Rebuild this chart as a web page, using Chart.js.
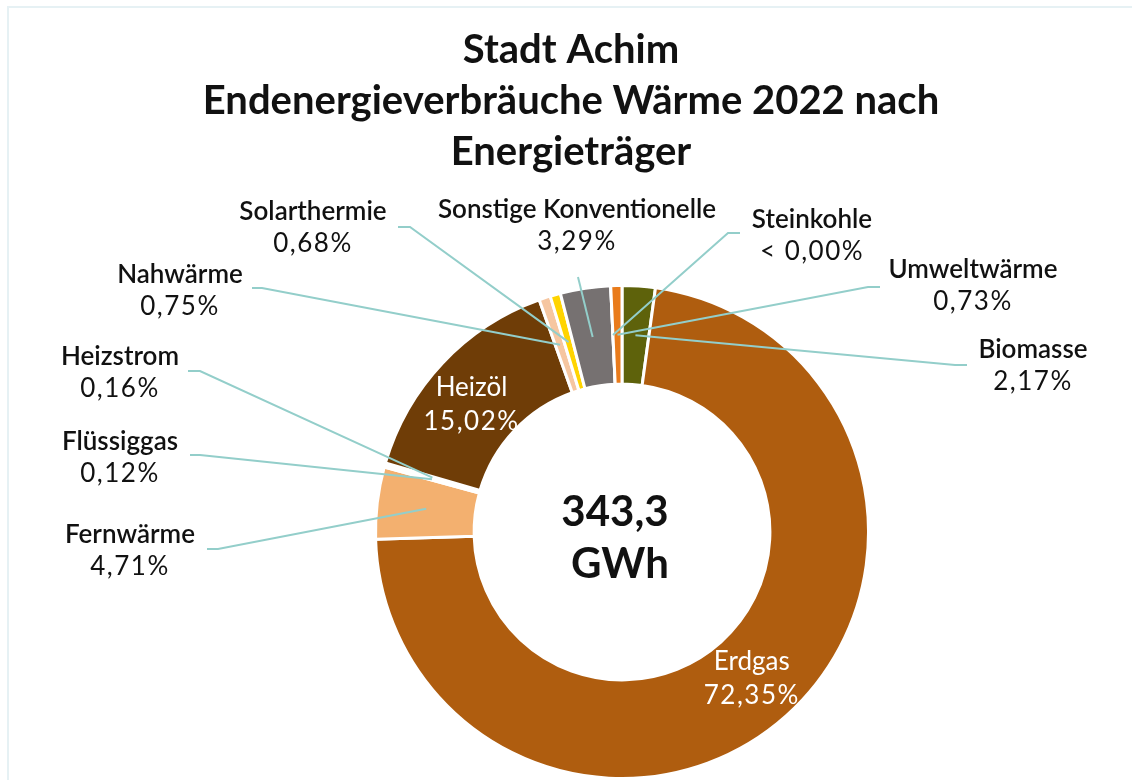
<!DOCTYPE html>
<html>
<head>
<meta charset="utf-8">
<script src="https://cdn.jsdelivr.net/npm/chart.js@4.4.1/dist/chart.umd.min.js"></script>
<style>
  body { margin: 0; background: #fff; overflow: hidden; }
  #frame { position: absolute; left: 7px; top: 6px; width: 1200px; height: 900px;
           border-left: 2px solid #e6f1f4; border-top: 2px solid #e6f1f4; }
  #chart { position: absolute; left: 0; top: 0; }
</style>
</head>
<body>
<div id="frame"></div>
<canvas id="chart" width="1132" height="780"></canvas>
<script>
const categories = ['Biomasse', 'Erdgas', 'Fernwärme', 'Flüssiggas', 'Heizstrom', 'Heizöl',
    'Nahwärme', 'Solarthermie', 'Sonstige Konventionelle', 'Steinkohle', 'Umweltwärme'];
const shares = [2.17, 72.35, 4.71, 0.12, 0.16, 15.02, 0.75, 0.68, 3.29, 0.002, 0.73];
const sliceColors = ['#5e620b', '#af5d0f', '#f3b06f', '#d9a36b', '#c9b38f', '#6f3d07',
    '#f6c6a0', '#ffd400', '#767171', '#404040', '#e97b1b'];
const titleLines = ['Stadt Achim', 'Endenergieverbräuche Wärme 2022 nach', 'Energieträger'];
const totalText = ['343,3', 'GWh'];

// label placement (text centre, leader start, elbow x); inside labels sit on the slice
const labelLayout = [
    { tx: 1033, ty: 350, lx: 967, ly: 365, ex: 955 },
    { inside: true, dx: -2, dy: 0 },
    { tx: 130, ty: 535, lx: 207, ly: 549, ex: 218 },
    { tx: 120, ty: 442, lx: 190, ly: 455, ex: 200 },
    { tx: 120, ty: 357, lx: 188, ly: 371, ex: 200 },
    { inside: true, dx: -7, dy: 8 },
    { tx: 180, ty: 275, lx: 252, ly: 288, ex: 262 },
    { tx: 313, ty: 212, lx: 398, ly: 227, ex: 410 },
    { tx: 577, ty: 210, lx: 578, ly: 277, ex: 578 },
    { tx: 812, ty: 220, lx: 740, ly: 233, ex: 728 },
    { tx: 973, ty: 270, lx: 880, ly: 287, ex: 868 }
];

function pct(v) {
    if (v < 0.005) return '< 0,00%';
    return v.toFixed(2).replace('.', ',') + '%';
}

const labelPlugin = {
    id: 'labels',
    afterDatasetsDraw(chart) {
        const ctx = chart.ctx;
        const meta = chart.getDatasetMeta(0);
        ctx.save();
        ctx.textAlign = 'center';
        ctx.textBaseline = 'middle';
        meta.data.forEach((arc, i) => {
            const pos = arc.tooltipPosition(true);
            const l = labelLayout[i];
            if (l.inside) {
                ctx.fillStyle = '#ffffff';
                ctx.font = '26px Lato';
                ctx.letterSpacing = '0px';
                ctx.fillText(categories[i], pos.x + l.dx, pos.y + l.dy - 17);
                ctx.letterSpacing = '1.5px';
                ctx.fillText(pct(shares[i]), pos.x + l.dx, pos.y + l.dy + 17);
                return;
            }
            ctx.strokeStyle = '#93ceca';
            ctx.lineWidth = 2;
            ctx.beginPath();
            ctx.moveTo(l.lx, l.ly);
            ctx.lineTo(l.ex, l.ly);
            ctx.lineTo(pos.x, pos.y);
            ctx.stroke();
            ctx.fillStyle = '#111111';
            ctx.letterSpacing = '0px';
            ctx.font = '600 26px Lato';
            ctx.fillText(categories[i], l.tx, l.ty);
            ctx.letterSpacing = '1.5px';
            ctx.font = '26px Lato';
            ctx.fillText(pct(shares[i]), l.tx, l.ty + 32);
        });

        // centre total and title
        const arc0 = meta.data[0];
        ctx.letterSpacing = '0px';
        ctx.fillStyle = '#111111';
        ctx.font = 'bold 42px Lato';
        ctx.fillText(totalText[0], arc0.x - 7, arc0.y - 20);
        ctx.fillText(totalText[1], arc0.x - 2, arc0.y + 32);
        ctx.font = 'bold 40px Lato';
        titleLines.forEach((t, k) => ctx.fillText(t, 571, 50 + k * 51));
        ctx.restore();
    }
};

const ctx = document.getElementById('chart').getContext('2d');
new Chart(ctx, {
    type: 'doughnut',
    data: {
        labels: categories,
        datasets: [{
            data: shares,
            backgroundColor: sliceColors,
            borderColor: '#ffffff',
            borderWidth: 3
        }]
    },
    options: {
        responsive: false,
        animation: false,
        cutout: '60%',
        layout: { padding: { left: 374, top: 284, right: 262, bottom: 0 } },
        plugins: {
            legend: { display: false },
            tooltip: { enabled: false }
        }
    },
    plugins: [labelPlugin]
});
</script>
</body>
</html>
